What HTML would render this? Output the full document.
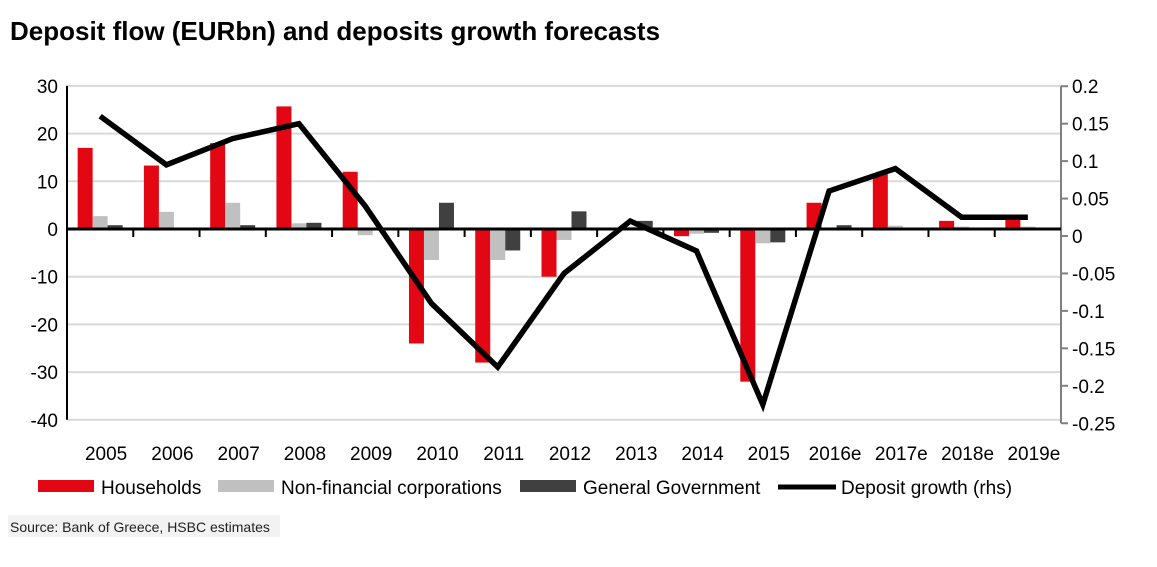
<!DOCTYPE html>
<html><head><meta charset="utf-8"><style>
body{margin:0;background:#fff;font-family:"Liberation Sans",Arial,sans-serif;}
svg text{font-family:"Liberation Sans",Arial,sans-serif;}
</style></head><body>
<svg id="c" width="1157" height="562">
<text x="10" y="40" font-size="26" font-weight="bold">Deposit flow (EURbn) and deposits growth forecasts</text>
<g id="grid"></g><g id="bars"></g><g id="axes"></g><g id="line"></g><g id="legend"></g>
<rect x="8" y="515" width="272" height="22" fill="#f2f2f2"/>
<text x="10" y="532" font-size="14" fill="#222">Source: Bank of Greece, HSBC estimates</text>
</svg>
<script>
const categories=["2005","2006","2007","2008","2009","2010","2011","2012","2013","2014","2015","2016e","2017e","2018e","2019e"];
const households=[17,13.3,18,25.7,12,-24,-28,-10,0,-1.5,-32,5.5,11.5,1.7,2];
const nonFinancial=[2.7,3.6,5.5,1.2,-1.3,-6.5,-6.5,-2.3,0.5,-1,-3,0.3,0.7,0.5,0.5];
const government=[0.8,0,0.8,1.3,0,5.5,-4.5,3.7,1.7,-0.8,-2.8,0.8,0,0,0];
const depositGrowth=[0.16,0.095,0.13,0.15,0.04,-0.09,-0.175,-0.05,0.02,-0.02,-0.225,0.06,0.09,0.025,0.025];
const leftTicks=[30,20,10,0,-10,-20,-30,-40];
const rightTicks=[0.2,0.15,0.1,0.05,0,-0.05,-0.1,-0.15,-0.2,-0.25];
const rightTickLabels=["0.2","0.15","0.1","0.05","0","-0.05","-0.1","-0.15","-0.2","-0.25"];

const NS="http://www.w3.org/2000/svg";
const X0=67,X1=1061,cw=(X1-X0)/categories.length;
const yL=v=>229-v*4.77;
const yR=v=>236-v*749;
const xc=i=>X0+cw*(i+0.5);
function mk(p,t,a){const e=document.createElementNS(NS,t);for(const k in a)e.setAttribute(k,a[k]);document.getElementById(p).appendChild(e);return e;}
leftTicks.forEach(v=>{
 if(v!==0){const g=mk('grid','line',{x1:X0,x2:X1,y1:yL(v),y2:yL(v),stroke:'#d9d9d9','stroke-width':2});
 
 }
 const t=mk('axes','text',{x:58,y:yL(v)+7,'font-size':19,'text-anchor':'end'});t.textContent=v;
 
 
});
rightTicks.forEach((v,i)=>{
 mk('axes','line',{x1:X1,x2:X1+7,y1:yR(v),y2:yR(v),stroke:'#808080','stroke-width':2});
 const t=mk('axes','text',{x:1072,y:yR(v)+7,'font-size':19});t.textContent=rightTickLabels[i];
 
 
});
const series=[[households,'#e30613','households'],[nonFinancial,'#c0c0c0','non-financial'],[government,'#404040','government']];
categories.forEach((c,i)=>{
 series.forEach((s,j)=>{
  const v=s[0][i];const x=xc(i)-22.5+j*15;const y0=yL(0),y1=yL(v);
  const r=mk('bars','rect',{x:x,y:Math.min(y0,y1),width:15,height:Math.abs(y1-y0),fill:s[1]});
  
  
 });
 const t=mk('axes','text',{x:xc(i)+6,y:460,'font-size':19,'text-anchor':'middle'});t.textContent=c;
 
 
 if(i>0)mk('axes','line',{x1:X0+cw*i,x2:X0+cw*i,y1:yL(0),y2:yL(0)+8,stroke:'#000','stroke-width':2});
});
mk('axes','line',{x1:X0,x2:X0,y1:yL(30),y2:yL(-40),stroke:'#000','stroke-width':2});
mk('axes','line',{x1:X1,x2:X1,y1:yR(0.2),y2:yR(-0.25),stroke:'#808080','stroke-width':2});
mk('axes','line',{x1:X0,x2:X1,y1:yL(0),y2:yL(0),stroke:'#000','stroke-width':3});
const pts=depositGrowth.map((v,i)=>xc(i)+','+yR(v)).join(' ');
const pl=mk('line','polyline',{points:pts,fill:'none',stroke:'#000','stroke-width':5.5,'stroke-linejoin':'miter'});


const leg=[['Households','#e30613',38,'rect'],['Non-financial corporations','#c0c0c0',218,'rect'],['General Government','#404040',520,'rect'],['Deposit growth (rhs)','#000',778,'line']];
leg.forEach(l=>{
 if(l[3]==='rect'){mk('legend','rect',{x:l[2],y:480,width:56,height:12,fill:l[1]});}
 else{mk('legend','line',{x1:l[2],x2:l[2]+58,y1:487,y2:487,stroke:'#000','stroke-width':5});}
 const t=mk('legend','text',{x:l[2]+63,y:494,'font-size':19});t.textContent=l[0];
 
 
});
</script>
</body></html>
